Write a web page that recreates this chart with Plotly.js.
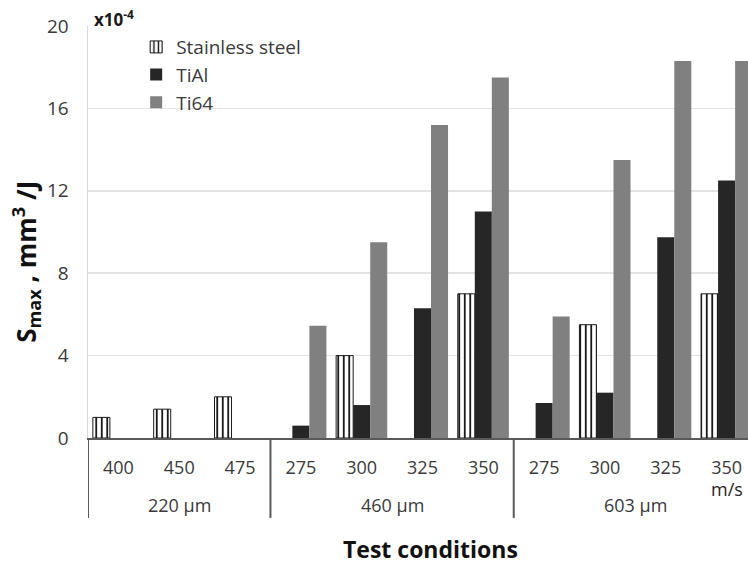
<!DOCTYPE html>
<html>
<head>
<meta charset="utf-8">
<script src="https://cdn.plot.ly/plotly-3.0.1.min.js"></script>
<style>
html,body{margin:0;padding:0;overflow:hidden;background:#fff;}
#chart{width:770px;height:566px;}
</style>
</head>
<body>
<div id="chart"></div>
<script>
// Test conditions: nozzle/particle size groups and impact speeds (m/s)
const groups = ["220 µm", "460 µm", "603 µm"];
const groupSizes = [3, 4, 4];
const speeds = ["400", "450", "475", "275", "300", "325", "350", "275", "300", "325", "350"];
// S_max values in units of 1e-4 mm^3/J (null = not tested)
const stainless = [1.0, 1.4, 2.0, null, 4.0, null, 7.0, null, 5.5, null, 7.0];
const tiAl      = [null, null, null, 0.6, 1.6, 6.3, 11.0, 1.7, 2.2, 9.75, 12.5];
const ti64      = [null, null, null, 5.45, 9.5, 15.2, 17.5, 5.9, 13.5, 18.3, 18.3];

const idx = speeds.map((_, i) => i);
const font = "'Open Sans', 'Noto Sans', sans-serif";
const txt = "#3a3a3a";

const traces = [
  {type: "bar", name: "Stainless steel", x: idx, y: stainless,
   marker: {color: "#ffffff", line: {color: "#1a1a1a", width: 1},
            pattern: {shape: "|", fgcolor: "#000000", bgcolor: "#ffffff", size: 5.5, solidity: 0.3}}},
  {type: "bar", name: "TiAl", x: idx, y: tiAl,
   marker: {color: "#262626", line: {width: 0}}},
  {type: "bar", name: "Ti64", x: idx, y: ti64,
   marker: {color: "#808080", line: {width: 0}}}
];

const sepY = -0.194;
const shapes = [];
let start = 0;
const annotations = [];
groups.forEach((g, k) => {
  const b = start - 0.5;
  shapes.push({type: "line", xref: "x", yref: "paper", x0: b, x1: b, y0: 0, y1: sepY,
               line: {color: "#595959", width: 2}});
  annotations.push({xref: "x", yref: "paper", x: start + (groupSizes[k] - 1) / 2, y: -0.163,
                    text: g, showarrow: false, xanchor: "center", yanchor: "middle",
                    font: {family: font, size: 18, color: txt}});
  start += groupSizes[k];
});
annotations.push({xref: "x", yref: "paper", x: speeds.length - 1, y: -0.124, text: "m/s",
                  showarrow: false, xanchor: "center", yanchor: "middle",
                  font: {family: font, size: 18, color: "#262626"}});
annotations.push({xref: "paper", yref: "paper", x: 0.006, y: 1.018, text: "x10<sup>-4</sup>",
                  showarrow: false, xanchor: "left", yanchor: "middle",
                  font: {family: font, size: 17, color: "#1a1a1a", weight: "bold"}});
annotations.push({xref: "paper", yref: "paper", x: -0.093, y: 0.427, textangle: -90,
                  text: "S<sub>max</sub> , mm<sup>3</sup> /J", showarrow: false,
                  xanchor: "center", yanchor: "middle",
                  font: {family: font, size: 26, color: "#111111", weight: "bold"}});
annotations.push({xref: "paper", yref: "paper", x: 0.5117, y: -0.269, text: "Test conditions",
                  showarrow: false, xanchor: "center", yanchor: "middle",
                  font: {family: font, size: 23, color: "#111111", weight: "bold"}});

const layout = {
  width: 770, height: 566,
  margin: {l: 88, r: 13, t: 26, b: 128},
  paper_bgcolor: "#ffffff", plot_bgcolor: "#ffffff",
  barmode: "group", bargap: 0.16, bargroupgap: 0,
  font: {family: font, color: txt},
  showlegend: true,
  legend: {x: 0.072, y: 0.995, xanchor: "left", yanchor: "top", bgcolor: "rgba(0,0,0,0)",
           font: {family: font, size: 19, color: txt}, traceorder: "normal"},
  xaxis: {range: [-0.5, 10.5], tickvals: idx, ticktext: speeds, ticks: "", showgrid: false,
          zeroline: false, showline: true, linecolor: "#595959", linewidth: 2,
          tickfont: {family: font, size: 18, color: txt}, ticklabelstandoff: 12, fixedrange: true},
  yaxis: {range: [0, 20], dtick: 4, tick0: 0, showgrid: true, gridcolor: "#e3e3e3", gridwidth: 1.5,
          zeroline: false, showline: true, linecolor: "#d9d9d9", linewidth: 1.5, ticks: "",
          tickfont: {family: font, size: 19, color: txt}, ticklabelstandoff: 14, fixedrange: true},
  shapes: shapes,
  annotations: annotations
};

Plotly.newPlot("chart", traces, layout, {displayModeBar: false, staticPlot: true});
</script>
</body>
</html>
